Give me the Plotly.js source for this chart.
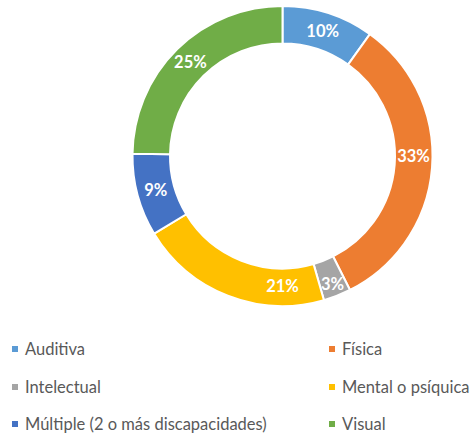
<!DOCTYPE html>
<html><head><meta charset="utf-8">
<script src="https://cdn.plot.ly/plotly-3.0.1.min.js"></script>
<style>html,body{margin:0;padding:0;background:#fff}#chart{width:472px;height:435px}</style>
</head><body><div id="chart"></div>
<script>
const categories = ["Auditiva", "Física", "Intelectual", "Mental o psíquica", "Múltiple (2 o más discapacidades)", "Visual"];
const percentages = [10, 33, 3, 21, 9, 25];
const colors = ["#5B9BD5", "#ED7D31", "#A5A5A5", "#FFC000", "#4472C4", "#70AD47"];

const W = 472, H = 435;
const cx = 282.5, cy = 156, R = 150;

const trace = {
  type: "pie",
  labels: categories,
  values: percentages,
  sort: false,
  direction: "clockwise",
  rotation: 0,
  hole: 0.75,
  marker: {colors: colors, line: {color: "#ffffff", width: 2}},
  texttemplate: "%{value}%",
  textposition: "inside",
  insidetextorientation: "horizontal",
  textfont: {family: "Lato, 'Open Sans', sans-serif", size: 16.5, color: "#ffffff", weight: "bold"},
  hoverinfo: "label+value",
  showlegend: false,
  domain: {x: [(cx - R) / W, (cx + R) / W], y: [1 - (cy + R) / H, 1 - (cy - R) / H]}
};

// legend grid: 2 columns x 3 rows
const colX = [12, 329];
const rowY = [349, 387, 424];
const shapes = [], annotations = [];
categories.forEach((c, i) => {
  const col = i % 2, row = Math.floor(i / 2);
  const x = colX[col], y = rowY[row];
  shapes.push({type: "rect", xref: "paper", yref: "paper",
    x0: x / W, x1: (x + 6) / W, y0: 1 - (y + 3) / H, y1: 1 - (y - 3) / H,
    fillcolor: colors[i], line: {width: 0}});
  annotations.push({xref: "paper", yref: "paper", x: (x + 11) / W, y: 1 - y / H,
    xanchor: "left", yanchor: "middle", showarrow: false, text: c,
    font: {family: "Lato, 'Open Sans', sans-serif", size: 16.5, color: "#595959"}});
});

const layout = {
  width: W, height: H,
  margin: {l: 0, r: 0, t: 0, b: 0},
  paper_bgcolor: "#ffffff",
  showlegend: false,
  uniformtext: {minsize: 16.5, mode: "show"},
  shapes: shapes,
  annotations: annotations
};
Plotly.newPlot("chart", [trace], layout, {displayModeBar: false, staticPlot: true});
</script></body></html>
